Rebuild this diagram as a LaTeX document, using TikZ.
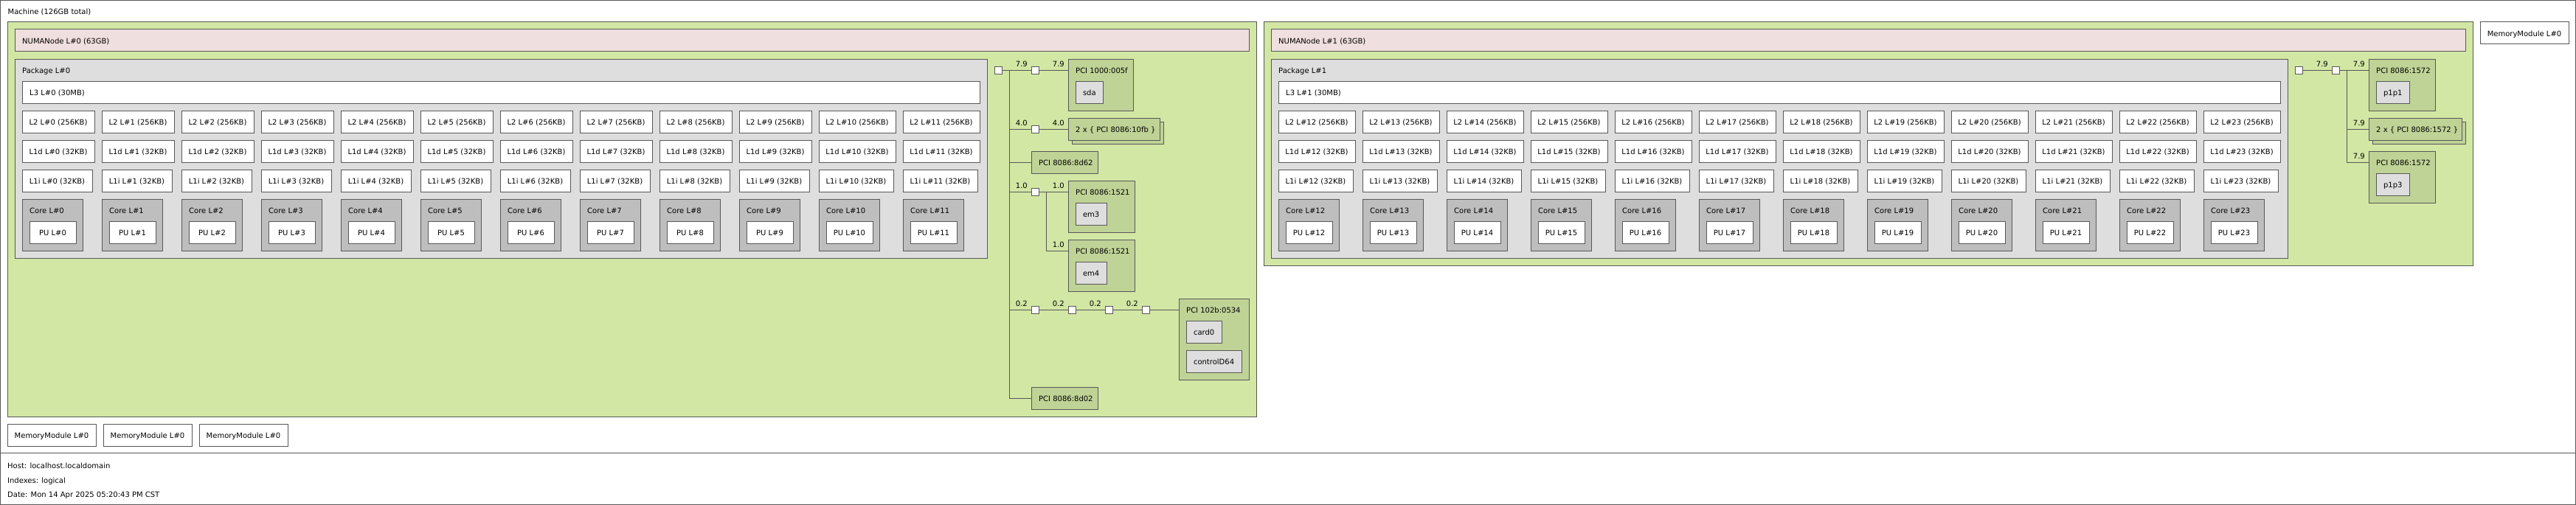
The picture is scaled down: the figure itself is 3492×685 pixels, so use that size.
\documentclass[tikz,border=0pt]{standalone}
\usepackage{fontspec}
\setmainfont{DejaVu Sans}
\usetikzlibrary{positioning}
\definecolor{lsline}{RGB}{88,88,88}
\definecolor{grpgreen}{RGB}{210,231,164}
\definecolor{numapink}{RGB}{239,223,222}
\definecolor{pkggray}{RGB}{222,222,222}
\definecolor{coregray}{RGB}{190,190,190}
\definecolor{pcigreen}{RGB}{191,211,150}
\definecolor{osgray}{RGB}{222,222,222}
\tikzset{
  box/.style={draw=lsline, line width=1pt, anchor=north west, inner sep=0pt, outer sep=0pt,
    minimum height=30pt, text height=9pt, text depth=0pt},
  cache/.style={box, fill=white, minimum width=#1},
  pubox/.style={box, fill=white, minimum width=63pt},
  corebox/.style={box, fill=coregray, minimum width=82pt, minimum height=70pt},
  pcibox/.style={box, fill=pcigreen},
  osbox/.style={box, fill=osgray, inner xsep=10pt},
  bridge/.style={draw=lsline, line width=1pt, fill=white, minimum size=10pt, inner sep=0pt, outer sep=0pt},
  lbl/.style={anchor=base west, inner sep=0pt},
  bw/.style={anchor=base east, inner sep=0pt},
  link/.style={draw=lsline, line width=1pt}}

\begin{document}
\begin{tikzpicture}[x=1pt, y=-1pt]
        \useasboundingbox (0,0) rectangle (3492,685);

        \node[box, fill=white, minimum width=3491pt, minimum height=614pt] (mach) at (0.5,0.5) {};
        \node[lbl] (mach-t) at ([shift={(10pt,-19.5pt)}]mach.north west) {Machine (126GB total)};
        \node[box, fill=white, minimum width=3491pt, minimum height=70pt] (legend) at (0.5,614.5) {};
        \node[lbl] (host) at (10,635.5) {Host: localhost.localdomain};
        \node[lbl] (idx) at (10,655) {Indexes: logical};
        \node[lbl] (date) at (10,674.5) {Date: Mon 14 Apr 2025 05:20:43 PM CST};

        \node[box, fill=white, minimum width=120pt] (mm0) at (10,575) {MemoryModule L\#0};
        \node[box, fill=white, minimum width=120pt, right=10pt of mm0] (mm1) {MemoryModule L\#0};
        \node[box, fill=white, minimum width=120pt, right=10pt of mm1] (mm2) {MemoryModule L\#0};
        \node[box, fill=white, minimum width=120pt] (mm3) at (3362,30) {MemoryModule L\#0};

        % the two NUMA groups
        \node[box, fill=grpgreen, minimum width=1693pt, minimum height=535pt] (grp0) at (10,30) {};
        \node[box, fill=numapink, minimum width=1673pt] (numa0) at (20,40) {};
        \node[lbl] (numa0-t) at ([shift={(10pt,-19.5pt)}]numa0.north west) {NUMANode L\#0 (63GB)};
        \node[box, fill=pkggray, minimum width=1318pt, minimum height=270pt] (pkg0) at (20,80) {};
        \node[lbl] (pkg0-t) at ([shift={(10pt,-19.5pt)}]pkg0.north west) {Package L\#0};
        \node[cache=1298pt] (l3-0) at (30,110) {};
        \node[lbl] (l3-0-t) at ([shift={(10pt,-19.5pt)}]l3-0.north west) {L3 L\#0 (30MB)};

        \node[box, fill=grpgreen, minimum width=1639pt, minimum height=330pt] (grp1) at (1713,30) {};
        \node[box, fill=numapink, minimum width=1619pt] (numa1) at (1723,40) {};
        \node[lbl] (numa1-t) at ([shift={(10pt,-19.5pt)}]numa1.north west) {NUMANode L\#1 (63GB)};
        \node[box, fill=pkggray, minimum width=1378pt, minimum height=270pt] (pkg1) at (1723,80) {};
        \node[lbl] (pkg1-t) at ([shift={(10pt,-19.5pt)}]pkg1.north west) {Package L\#1};
        \node[cache=1358pt] (l3-1) at (1733,110) {};
        \node[lbl] (l3-1-t) at ([shift={(10pt,-19.5pt)}]l3-1.north west) {L3 L\#1 (30MB)};

        \foreach \i in {0,...,23} {
          \pgfmathsetmacro{\cx}{\i<10 ? 30+108*\i : (\i<12 ? 1110+114*(\i-10) : 1733+114*(\i-12))}
          \pgfmathsetmacro{\wc}{\i<10 ? 98 : 104}
          \pgfmathsetmacro{\wi}{\wc-3}
          \node[cache=\wc pt] (l2-\i) at (\cx,150) {L2 L\#\i{} (256KB)};
          \node[cache=\wc pt] (l1d-\i) at (\cx,190) {L1d L\#\i{} (32KB)};
          \node[cache=\wi pt] (l1i-\i) at (\cx,230) {L1i L\#\i{} (32KB)};
          \node[corebox] (core-\i) at (\cx,270) {};
          \node[lbl] (core-\i-t) at ([shift={(10pt,-19.5pt)}]core-\i.north west) {Core L\#\i};
          \node[pubox] (pu-\i) at ([shift={(10pt,-30pt)}]core-\i.north west) {PU L\#\i};
        }

        % I/O tree of NUMA node 0
        \node[bridge] (hb0) at (1353,95) {};
        \coordinate (bus0-a) at (1368,95);
        \coordinate (bus0-b) at (1368,175);
        \coordinate (bus0-c) at (1368,220);
        \coordinate (bus0-d) at (1368,260);
        \coordinate (bus0-e) at (1368,420);
        \coordinate (bus0-f) at (1368,540);

        \node[bridge] (brA) at (1403,95) {};
        \node[pcibox, minimum width=88pt, minimum height=70pt] (pciA) at (1448,80) {};
        \node[lbl] (pciA-t) at ([shift={(10pt,-19.5pt)}]pciA.north west) {PCI 1000:005f};
        \node[osbox] (sda) at ([shift={(10pt,-30pt)}]pciA.north west) {sda};
        \coordinate (pciA-in) at ([yshift=-15pt]pciA.north west);

        \node[bridge] (brB) at (1403,175) {};
        \node[pcibox, minimum width=124pt] (shB-s) at (1453,165) {};
        \node[pcibox, minimum width=124pt] (shB) at (1448,160) {};
        \node[lbl] (shB-t) at ([shift={(10pt,-19.5pt)}]shB.north west) {2 x \{ PCI 8086:10fb \}};
        \coordinate (shB-in) at ([yshift=-15pt]shB.north west);

        \node[pcibox, minimum width=90pt] (pciC) at (1398,205) {};
        \node[lbl] (pciC-t) at ([shift={(10pt,-19.5pt)}]pciC.north west) {PCI 8086:8d62};

        \node[bridge] (brD) at (1403,260) {};
        \coordinate (subD) at (1418,260);
        \node[pcibox, minimum width=90pt, minimum height=70pt] (pciD1) at (1448,245) {};
        \node[lbl] (pciD1-t) at ([shift={(10pt,-19.5pt)}]pciD1.north west) {PCI 8086:1521};
        \node[osbox] (em3) at ([shift={(10pt,-30pt)}]pciD1.north west) {em3};
        \coordinate (pciD1-in) at ([yshift=-15pt]pciD1.north west);
        \node[pcibox, minimum width=90pt, minimum height=70pt] (pciD2) at (1448,325) {};
        \node[lbl] (pciD2-t) at ([shift={(10pt,-19.5pt)}]pciD2.north west) {PCI 8086:1521};
        \node[osbox] (em4) at ([shift={(10pt,-30pt)}]pciD2.north west) {em4};
        \coordinate (pciD2-in) at ([yshift=-15pt]pciD2.north west);

        \node[bridge] (brE1) at (1403,420) {};
        \node[bridge, right=40pt of brE1] (brE2) {};
        \node[bridge, right=40pt of brE2] (brE3) {};
        \node[bridge, right=40pt of brE3] (brE4) {};
        \node[pcibox, minimum width=95pt, minimum height=110pt] (pciE) at (1598,405) {};
        \node[lbl] (pciE-t) at ([shift={(10pt,-19.5pt)}]pciE.north west) {PCI 102b:0534};
        \node[osbox] (card0) at ([shift={(10pt,-30pt)}]pciE.north west) {card0};
        \node[osbox] (ctrl64) at ([shift={(10pt,-70pt)}]pciE.north west) {controlD64};

        \node[pcibox, minimum width=90pt] (pciF) at (1398,525) {};
        \node[lbl] (pciF-t) at ([shift={(10pt,-19.5pt)}]pciF.north west) {PCI 8086:8d02};

        \draw[link] (hb0) -- (brA);
        \draw[link] (bus0-a) -- (bus0-f);
        \draw[link] (brA) -- (pciA-in);
        \draw[link] (bus0-b) -- (brB);
        \draw[link] (brB) -- (shB-in);
        \draw[link] (bus0-c) -- (pciC);
        \draw[link] (bus0-d) -- (brD);
        \draw[link] (brD) -- (pciD1-in);
        \draw[link] (subD) |- (pciD2-in);
        \draw[link] (bus0-e) -- (brE1) -- (brE2) -- (brE3) -- (brE4);
        \draw[link] (brE4) -- (brE4 -| pciE.west);
        \draw[link] (bus0-f) -- (pciF);

        \node[bw] (bwA0) at ([shift={(-5pt,5pt)}]brA.west) {7.9};
        \node[bw] (bwA1) at ([shift={(-5pt,5pt)}]pciA-in) {7.9};
        \node[bw] (bwB0) at ([shift={(-5pt,5pt)}]brB.west) {4.0};
        \node[bw] (bwB1) at ([shift={(-5pt,5pt)}]shB-in) {4.0};
        \node[bw] (bwD0) at ([shift={(-5pt,5pt)}]brD.west) {1.0};
        \node[bw] (bwD1) at ([shift={(-5pt,5pt)}]pciD1-in) {1.0};
        \node[bw] (bwD2) at ([shift={(-5pt,5pt)}]pciD2-in) {1.0};
        \foreach \k in {1,...,4} {
          \node[bw] (bwE\k) at ([shift={(-5pt,5pt)}]brE\k.west) {0.2};
        }

        % I/O tree of NUMA node 1
        \node[bridge] (hb1) at (3116,95) {};
        \node[bridge] (brR) at (3166,95) {};
        \coordinate (bus1-a) at (3181,95);
        \coordinate (bus1-b) at (3181,175);
        \coordinate (bus1-c) at (3181,220);

        \node[pcibox, minimum width=90pt, minimum height=70pt] (pciR1) at (3211,80) {};
        \node[lbl] (pciR1-t) at ([shift={(10pt,-19.5pt)}]pciR1.north west) {PCI 8086:1572};
        \node[osbox] (plp1) at ([shift={(10pt,-30pt)}]pciR1.north west) {p1p1};
        \coordinate (pciR1-in) at ([yshift=-15pt]pciR1.north west);

        \node[pcibox, minimum width=126pt] (shR-s) at (3216,165) {};
        \node[pcibox, minimum width=126pt] (shR) at (3211,160) {};
        \node[lbl] (shR-t) at ([shift={(10pt,-19.5pt)}]shR.north west) {2 x \{ PCI 8086:1572 \}};
        \coordinate (shR-in) at ([yshift=-15pt]shR.north west);

        \node[pcibox, minimum width=90pt, minimum height=70pt] (pciR3) at (3211,205) {};
        \node[lbl] (pciR3-t) at ([shift={(10pt,-19.5pt)}]pciR3.north west) {PCI 8086:1572};
        \node[osbox] (plp3) at ([shift={(10pt,-30pt)}]pciR3.north west) {p1p3};
        \coordinate (pciR3-in) at ([yshift=-15pt]pciR3.north west);

        \draw[link] (hb1) -- (brR);
        \draw[link] (brR) -- (pciR1-in);
        \draw[link] (bus1-a) -- (bus1-c);
        \draw[link] (bus1-b) -- (shR-in);
        \draw[link] (bus1-c) -- (pciR3-in);

        \node[bw] (bwR0) at ([shift={(-5pt,5pt)}]brR.west) {7.9};
        \node[bw] (bwR1) at ([shift={(-5pt,5pt)}]pciR1-in) {7.9};
        \node[bw] (bwR2) at ([shift={(-5pt,5pt)}]shR-in) {7.9};
        \node[bw] (bwR3) at ([shift={(-5pt,5pt)}]pciR3-in) {7.9};
\end{tikzpicture}
\end{document}
